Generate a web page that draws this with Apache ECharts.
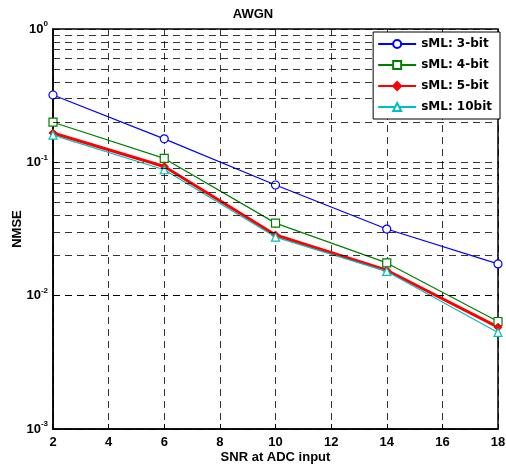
<!DOCTYPE html>
<html>
<head>
<meta charset="utf-8">
<script src="https://cdn.jsdelivr.net/npm/echarts@6/dist/echarts.min.js"></script>
<style>html,body{margin:0;padding:0;background:#fff;}#c{width:506px;height:466px;}</style>
</head>
<body>
<div id="c"></div>
<script>
const snr = [2, 6, 10, 14, 18];
const bit3 = [0.32, 0.150, 0.0676, 0.0316, 0.0173];
const bit4 = [0.200, 0.107, 0.035, 0.0176, 0.0064];
const bit5 = [0.166, 0.093, 0.0285, 0.0155, 0.0058];
const bit10 = [0.160, 0.088, 0.0275, 0.0152, 0.0053];
const seriesNames = ['sML: 3-bit', 'sML: 4-bit', 'sML: 5-bit', 'sML: 10bit'];
const minorLevels = [0.002,0.003,0.004,0.005,0.006,0.007,0.008,0.009,
                     0.02,0.03,0.04,0.05,0.06,0.07,0.08,0.09,
                     0.2,0.3,0.4,0.5,0.6,0.7,0.8,0.9];

const font = 'Liberation Sans, Arial, sans-serif';
const pair = (xs, ys) => xs.map((x, i) => [x, ys[i]]);
const dash = {color: '#000', width: 0.8, type: [7, 5]};

const chart = echarts.init(document.getElementById('c'), null, {renderer: 'canvas'});
chart.setOption({
  animation: false,
  backgroundColor: '#fff',
  textStyle: {fontFamily: font},
  title: {
    text: 'AWGN', left: 'center', top: 3,
    textStyle: {fontSize: 13, fontWeight: 'bold', color: '#000', fontFamily: font}
  },
  grid: {left: 53, right: 8, top: 29, bottom: 37, outerBoundsMode: 'none', containLabel: false,
         show: true, borderColor: '#000', borderWidth: 1.5, backgroundColor: 'transparent'},
  legend: {
    data: seriesNames,
    z: 100, zlevel: 1,
    orient: 'vertical', right: 6, top: 32,
    backgroundColor: '#fff', borderColor: '#000', borderWidth: 1,
    padding: [6, 8, 6, 4], itemGap: 9, itemWidth: 38, itemHeight: 10,
    textStyle: {fontSize: 12, fontWeight: 'bold', color: '#000', fontFamily: 'DejaVu Sans, sans-serif'}
  },
  xAxis: {
    type: 'value', min: 2, max: 18, interval: 2,
    name: 'SNR at ADC input', nameLocation: 'middle', nameGap: 22, nameMoveOverlap: false,
    nameTextStyle: {fontSize: 13, fontWeight: 'bold', color: '#000', fontFamily: font},
    axisLine: {show: true, lineStyle: {color: '#000', width: 1.5}},
    axisTick: {show: true, inside: true, length: 5, lineStyle: {color: '#000'}},
    axisLabel: {fontSize: 13, fontWeight: 'bold', color: '#000', margin: 7, fontFamily: font},
    splitLine: {show: true, lineStyle: dash}
  },
  yAxis: {
    type: 'log', logBase: 10, min: 0.001, max: 1,
    name: 'NMSE', nameLocation: 'middle', nameGap: 29, nameMoveOverlap: false,
    nameTextStyle: {fontSize: 13, fontWeight: 'bold', color: '#000', fontFamily: font},
    axisLine: {show: true, lineStyle: {color: '#000', width: 1.5}},
    axisTick: {show: true, inside: true, length: 5, lineStyle: {color: '#000'}},
    axisLabel: {
      margin: 5, color: '#000',
      formatter: function (v) {
        const e = Math.round(Math.log10(v));
        return '{b|10}{s|' + e + '}';
      },
      rich: {
        b: {fontSize: 13, fontWeight: 'bold', color: '#000', fontFamily: font},
        s: {fontSize: 8, fontWeight: 'bold', color: '#000', fontFamily: font, padding: [0, 0, 10, 0]}
      }
    },
    splitLine: {show: true, lineStyle: dash}
  },
  series: [
    {
      name: 'minor', type: 'line', data: [], z: 1, silent: true,
      markLine: {
        silent: true, symbol: 'none', animation: false,
        label: {show: false},
        lineStyle: dash,
        data: minorLevels.map(v => ({yAxis: v}))
      }
    },
    {
      name: seriesNames[0], type: 'line', data: pair(snr, bit3), z: 3,
      symbol: 'circle', symbolSize: 8,
      lineStyle: {color: '#0000ff', width: 1.2},
      itemStyle: {color: '#fff', borderColor: '#0000ff', borderWidth: 1.2}
    },
    {
      name: seriesNames[1], type: 'line', data: pair(snr, bit4), z: 3,
      symbol: 'rect', symbolSize: 8,
      lineStyle: {color: '#008000', width: 1.2},
      itemStyle: {color: '#fff', borderColor: '#008000', borderWidth: 1.2}
    },
    {
      name: seriesNames[2], type: 'line', data: pair(snr, bit5), z: 3,
      symbol: 'diamond', symbolSize: 8,
      lineStyle: {color: '#ff0000', width: 3},
      itemStyle: {color: '#ff0000', borderColor: '#ff0000', borderWidth: 1}
    },
    {
      name: seriesNames[3], type: 'line', data: pair(snr, bit10), z: 4,
      symbol: 'triangle', symbolSize: 8,
      lineStyle: {color: '#00bfbf', width: 1.2},
      itemStyle: {color: '#fff', borderColor: '#00bfbf', borderWidth: 1.2}
    }
  ]
});
</script>
</body>
</html>
